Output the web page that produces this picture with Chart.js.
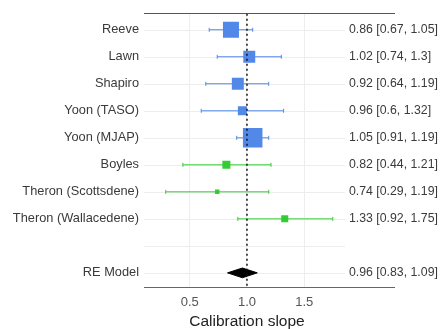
<!DOCTYPE html>
<html>
<head>
<meta charset="utf-8">
<title>Calibration slope</title>
<script src="https://cdn.jsdelivr.net/npm/chart.js@4.4.1/dist/chart.umd.min.js"></script>
<style>
  html, body { margin: 0; padding: 0; background: #fff; }
  canvas { display: block; }
</style>
</head>
<body>
<canvas id="forest" width="440" height="329"></canvas>
<script>
// study level calibration slopes with 95% CIs
const studies = ['Reeve', 'Lawn', 'Shapiro', 'Yoon (TASO)', 'Yoon (MJAP)',
                 'Boyles', 'Theron (Scottsdene)', 'Theron (Wallacedene)'];
const slopes = [0.86, 1.02, 0.92, 0.96, 1.05, 0.82, 0.74, 1.33];
const lower  = [0.67, 0.74, 0.64, 0.6, 0.91, 0.44, 0.29, 0.92];
const upper  = [1.05, 1.3, 1.19, 1.32, 1.19, 1.21, 1.19, 1.75];
const weights = [18.2, 13.6, 13.6, 10.3, 22.2, 9.1, 5.1, 8.0];
const groups = [0, 0, 0, 0, 0, 1, 1, 1];

// random effects summary
const pooledLabel = 'RE Model';
const pooledSlope = 0.96;
const pooledLower = 0.83;
const pooledUpper = 1.09;

const refSlope = 1;
const xTicks = [0.5, 1.0, 1.5];

const groupColors = ['#5289e9', '#33cc33'];
const FONT = 'Liberation Sans, Arial, sans-serif';
const X_MIN = 0.1, X_MAX = 2.285;
const Y_MIN = 0.41, Y_MAX = 10.56;
const DIAMOND_H = 0.18;

// row 9 is a spacer, the pooled estimate sits below it
const pooledRow = studies.length + 2;
const allRows = [];
for (let r = 1; r <= pooledRow; r++) allRows.push(r);
const labelRows = studies.map((s, i) => i + 1).concat([pooledRow]);

function rowLabel(v) {
    if (v === pooledRow) return pooledLabel;
    return studies[v - 1] || '';
}

function ciText(est, lo, hi) {
    return est + ' [' + lo + ', ' + hi + ']';
}

// faint guide line behind every row
const rowGuides = {
    id: 'rowGuides',
    beforeDatasetsDraw(chart) {
        const {ctx, chartArea, scales} = chart;
        ctx.save();
        ctx.strokeStyle = '#ededed';
        ctx.lineWidth = 1;
        allRows.forEach(r => {
            const y = Math.round(scales.y.getPixelForValue(r)) + 0.5;
            ctx.beginPath();
            ctx.moveTo(chartArea.left, y);
            ctx.lineTo(chartArea.right - 49, y);
            ctx.stroke();
        });
        ctx.restore();
    }
};

// estimate [lower, upper] text on the right plus the axis label
const annotations = {
    id: 'annotations',
    afterDraw(chart) {
        const {ctx, chartArea, scales} = chart;
        ctx.save();
        ctx.font = '12.3px ' + FONT;
        ctx.fillStyle = '#3a3a3a';
        ctx.textAlign = 'left';
        ctx.textBaseline = 'middle';
        const tx = chartArea.right - 45;
        studies.forEach((s, i) => {
            ctx.fillText(ciText(slopes[i], lower[i], upper[i]), tx, scales.y.getPixelForValue(i + 1));
        });
        ctx.fillText(ciText(pooledSlope, pooledLower, pooledUpper), tx, scales.y.getPixelForValue(pooledRow));

        ctx.font = '15.5px ' + FONT;
        ctx.fillStyle = '#222';
        ctx.textAlign = 'center';
        const mid = (xTicks[0] + xTicks[xTicks.length - 1]) / 2;
        ctx.fillText('Calibration slope', scales.x.getPixelForValue(mid), 322);
        ctx.restore();
    }
};

const datasets = [];

// reference line at slope = 1
datasets.push({
    type: 'line',
    data: [{x: refSlope, y: Y_MIN}, {x: refSlope, y: Y_MAX}],
    borderColor: '#111',
    borderWidth: 1.5,
    borderDash: [2, 3],
    pointRadius: 0,
    order: 0
});

// weighted squares
datasets.push({
    data: slopes.map((v, i) => ({x: v, y: i + 1})),
    pointStyle: 'rect',
    pointRadius: weights.map(w => w * 0.88 / Math.SQRT2),
    backgroundColor: groups.map(g => groupColors[g]),
    borderWidth: 0,
    order: 1
});

// confidence intervals with end caps
studies.forEach((s, i) => {
    const c = groupColors[groups[i]];
    datasets.push({
        type: 'line',
        data: [{x: lower[i], y: i + 1}, {x: upper[i], y: i + 1}],
        borderColor: c,
        borderWidth: 1,
        pointStyle: 'line',
        pointRotation: 90,
        pointRadius: 2,
        pointBorderColor: c,
        pointBorderWidth: 1,
        order: 2
    });
});

// summary diamond: upper half filled down to the lower half
datasets.push({
    type: 'line',
    data: [{x: pooledLower, y: pooledRow}, {x: pooledSlope, y: pooledRow - DIAMOND_H}, {x: pooledUpper, y: pooledRow}],
    borderColor: '#000',
    borderWidth: 1,
    backgroundColor: '#000',
    fill: '+1',
    pointRadius: 0,
    order: 1
});
datasets.push({
    type: 'line',
    data: [{x: pooledLower, y: pooledRow}, {x: pooledSlope, y: pooledRow + DIAMOND_H}, {x: pooledUpper, y: pooledRow}],
    borderColor: '#000',
    borderWidth: 1,
    pointRadius: 0,
    order: 1
});

const chart = new Chart(document.getElementById('forest').getContext('2d'), {
    type: 'scatter',
    data: {datasets: datasets},
    options: {
        responsive: false,
        devicePixelRatio: 1,
        animation: false,
        layout: {padding: {left: 0, right: 46, top: 0, bottom: 0}},
        plugins: {legend: {display: false}, tooltip: {enabled: false}},
        scales: {
            x: {
                type: 'linear',
                position: 'bottom',
                min: X_MIN,
                max: X_MAX,
                afterBuildTicks: s => { s.ticks = xTicks.map(v => ({value: v})); },
                afterFit: s => { s.height = 41; },
                grid: {color: '#ededed', drawTicks: false},
                border: {display: true, color: '#666', width: 1},
                ticks: {
                    padding: 7,
                    color: '#555',
                    font: {family: FONT, size: 13},
                    callback: v => Number(v).toFixed(1)
                }
            },
            xTop: {
                type: 'linear',
                position: 'top',
                min: X_MIN,
                max: X_MAX,
                afterFit: s => { s.height = 13; },
                grid: {display: false, drawTicks: false},
                border: {display: true, color: '#555', width: 1},
                ticks: {display: false}
            },
            y: {
                type: 'linear',
                position: 'left',
                reverse: true,
                min: Y_MIN,
                max: Y_MAX,
                afterBuildTicks: s => { s.ticks = labelRows.map(v => ({value: v})); },
                afterFit: s => { s.width = 144; },
                grid: {display: false, drawTicks: false},
                border: {display: false},
                ticks: {
                    autoSkip: false,
                    padding: 5,
                    color: '#3a3a3a',
                    font: {family: FONT, size: 12.8},
                    callback: v => rowLabel(v)
                }
            }
        }
    },
    plugins: [rowGuides, annotations]
});
</script>
</body>
</html>
